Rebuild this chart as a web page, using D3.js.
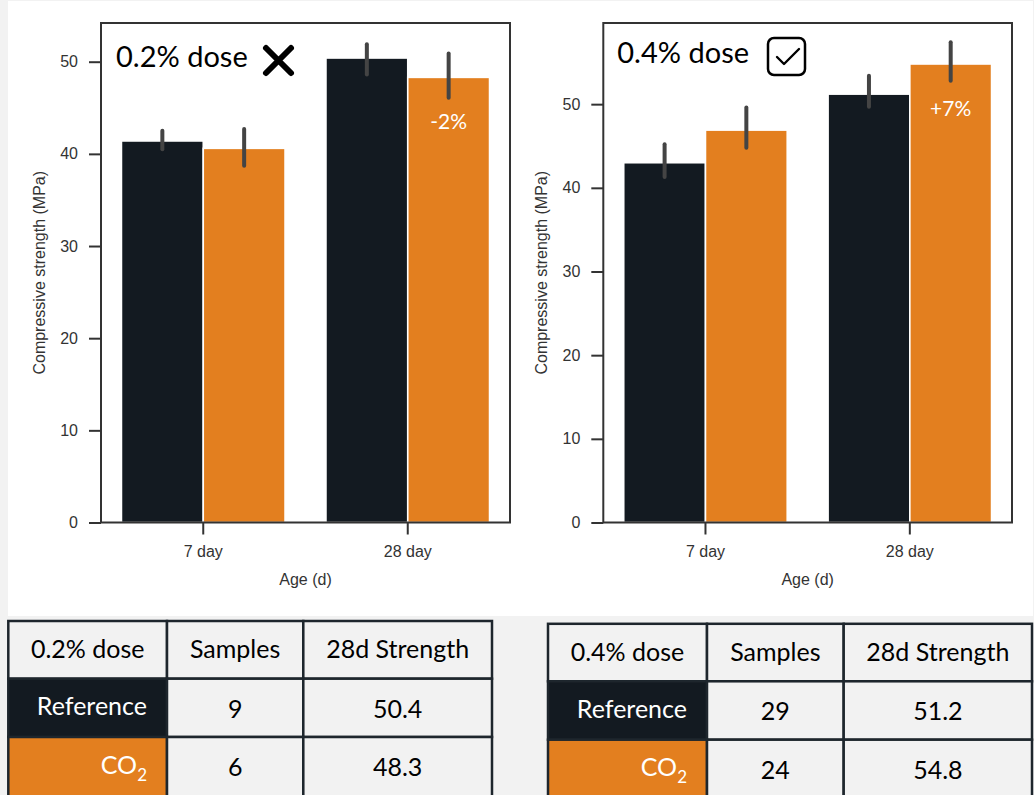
<!DOCTYPE html>
<html>
<head>
<meta charset="utf-8">
<script src="https://cdn.jsdelivr.net/npm/d3@7/dist/d3.min.js"></script>
<style>
  html, body { margin: 0; padding: 0; background: #f2f2f2; }
  svg { display: block; }
</style>
</head>
<body>
<svg id="chart" width="1034" height="795"></svg>
<script>
// ---- data ----
const ages = ["7 day", "28 day"];
const groups = ["Reference", "CO2"];
const yTicks = [0, 10, 20, 30, 40, 50];

// 0.2% dose: mean compressive strength (MPa) and error-bar range per age
const refMean02 = [41.4, 50.4];
const refLow02  = [40.5, 48.6];
const refHigh02 = [42.5, 51.9];
const co2Mean02 = [40.6, 48.3];
const co2Low02  = [38.7, 46.1];
const co2High02 = [42.7, 50.9];

// 0.4% dose
const refMean04 = [43.0, 51.2];
const refLow04  = [41.3, 49.7];
const refHigh04 = [45.2, 53.4];
const co2Mean04 = [46.9, 54.8];
const co2Low04  = [44.8, 52.8];
const co2High04 = [49.6, 57.4];

// 28-day change of the CO2 mix vs. the reference
const change28d = ["-2%", "+7%"];

// summary tables
const tableHeader02 = ["0.2% dose", "Samples", "28d Strength"];
const tableHeader04 = ["0.4% dose", "Samples", "28d Strength"];
const samples02 = [9, 6];
const strength28d02 = [50.4, 48.3];
const samples04 = [29, 24];
const strength28d04 = [51.2, 54.8];

// ---- style ----
const DARK = "#131a21";
const ORANGE = "#e37f1f";
const AXIS = "#333333";
const ERR = "#444444";
const TABLE_BG = "#f2f2f2";
const TABLE_LINE = "#1e262d";
const UI_FONT = "Lato, 'Open Sans', sans-serif";
const PLOT_FONT = "'Liberation Sans', Arial, sans-serif";

const svg = d3.select("#chart");

// page background and white chart panel
svg.append("rect").attr("width", 1034).attr("height", 795).attr("fill", "#f2f2f2");
svg.append("rect").attr("x", 8).attr("y", 1).attr("width", 1025).attr("height", 615).attr("fill", "#ffffff");

function toRows(mean, lo, hi) {
  return ages.map((a, i) => ({ age: a, mean: mean[i], lo: lo[i], hi: hi[i] }));
}

function drawPanel(cfg) {
  const { left, right, top, bottom, yMax, series, title, changeLabel, icon } = cfg;
  const g = svg.append("g");

  const x = d3.scaleBand().domain(ages).range([left, right]).paddingInner(0.2).paddingOuter(0.1);
  const xs = d3.scaleBand().domain(groups).range([0, x.bandwidth()]);
  const y = d3.scaleLinear().domain([0, yMax]).range([bottom, top]);

  // bars
  groups.forEach((grp, gi) => {
    const rows = series[gi];
    g.selectAll(null).data(rows).join("rect")
      .attr("x", d => x(d.age) + xs(grp))
      .attr("y", d => y(d.mean))
      .attr("width", xs.bandwidth())
      .attr("height", d => y(0) - y(d.mean))
      .attr("fill", gi === 0 ? DARK : ORANGE)
      .attr("stroke", "#ffffff")
      .attr("stroke-width", 1.6);
  });

  // error bars
  groups.forEach((grp, gi) => {
    const rows = series[gi];
    g.selectAll(null).data(rows).join("line")
      .attr("x1", d => x(d.age) + xs(grp) + xs.bandwidth() / 2)
      .attr("x2", d => x(d.age) + xs(grp) + xs.bandwidth() / 2)
      .attr("y1", d => y(d.lo))
      .attr("y2", d => y(d.hi))
      .attr("stroke", ERR)
      .attr("stroke-width", 4)
      .attr("stroke-linecap", "round");
  });

  // percentage change on the 28-day CO2 bar
  const co2_28 = series[1][1];
  g.append("text")
    .attr("x", x(co2_28.age) + xs("CO2") + xs.bandwidth() / 2)
    .attr("y", y(co2_28.mean) + 52)
    .attr("text-anchor", "middle")
    .attr("fill", "#ffffff")
    .attr("font-family", UI_FONT)
    .attr("font-size", 21)
    .text(changeLabel);

  // frame
  g.append("rect")
    .attr("x", left).attr("y", top)
    .attr("width", right - left).attr("height", bottom - top)
    .attr("fill", "none").attr("stroke", AXIS).attr("stroke-width", 2);

  // y axis
  const ya = g.append("g").attr("transform", `translate(${left},0)`)
    .call(d3.axisLeft(y).tickValues(yTicks).tickSize(12).tickPadding(11));
  ya.select(".domain").remove();
  ya.selectAll(".tick line").attr("stroke", AXIS).attr("stroke-width", 2);
  ya.selectAll(".tick text").attr("fill", AXIS).attr("font-family", PLOT_FONT).attr("font-size", 16);

  // x axis
  const xa = g.append("g").attr("transform", `translate(0,${bottom})`)
    .call(d3.axisBottom(x).tickSize(12).tickPadding(11));
  xa.select(".domain").remove();
  xa.selectAll(".tick line").attr("stroke", AXIS).attr("stroke-width", 2);
  xa.selectAll(".tick text").attr("fill", AXIS).attr("font-family", PLOT_FONT).attr("font-size", 16);

  // axis titles
  g.append("text")
    .attr("x", (left + right) / 2).attr("y", bottom + 62)
    .attr("text-anchor", "middle").attr("fill", AXIS)
    .attr("font-family", PLOT_FONT).attr("font-size", 16)
    .text("Age (d)");
  g.append("text")
    .attr("transform", `translate(${left - 56},${(top + bottom) / 2}) rotate(-90)`)
    .attr("text-anchor", "middle").attr("fill", AXIS)
    .attr("font-family", PLOT_FONT).attr("font-size", 16)
    .text("Compressive strength (MPa)");

  // panel title
  const t = g.append("text")
    .attr("x", left + title.dx).attr("y", top + title.dy)
    .attr("fill", "#000000")
    .attr("font-family", UI_FONT).attr("font-size", 29)
    .text(title.text);

  // status icon next to the title
  const ix = left + icon.dx, iy = top + icon.dy;
  if (icon.type === "cross") {
    g.append("path")
      .attr("d", `M${ix},${iy} L${ix + 25},${iy + 25} M${ix + 25},${iy} L${ix},${iy + 25}`)
      .attr("stroke", "#000").attr("stroke-width", 6).attr("stroke-linecap", "round").attr("fill", "none");
  } else {
    g.append("rect")
      .attr("x", ix).attr("y", iy).attr("width", 37).attr("height", 37).attr("rx", 6)
      .attr("fill", "none").attr("stroke", "#000").attr("stroke-width", 2.5);
    g.append("path")
      .attr("d", `M${ix + 9},${iy + 19} L${ix + 16},${iy + 26} L${ix + 31},${iy + 11}`)
      .attr("fill", "none").attr("stroke", "#000").attr("stroke-width", 2.4)
      .attr("stroke-linecap", "round").attr("stroke-linejoin", "round");
  }
}

drawPanel({
  left: 101, right: 510, top: 23, bottom: 522.5, yMax: 54.2,
  series: [toRows(refMean02, refLow02, refHigh02), toRows(co2Mean02, co2Low02, co2High02)],
  title: { text: "0.2% dose", dx: 15, dy: 44 },
  changeLabel: change28d[0],
  icon: { type: "cross", dx: 165, dy: 25 }
});

drawPanel({
  left: 603.3, right: 1012, top: 23, bottom: 522.5, yMax: 59.7,
  series: [toRows(refMean04, refLow04, refHigh04), toRows(co2Mean04, co2Low04, co2High04)],
  title: { text: "0.4% dose", dx: 14, dy: 39.5 },
  changeLabel: change28d[1],
  icon: { type: "check", dx: 164.7, dy: 15 }
});

// ---- summary tables ----
function drawTable(cols, rowsY, header, samples, strength) {
  const g = svg.append("g");
  const labels = ["Reference", "CO2"];
  const labelFill = [DARK, ORANGE];
  const nRows = rowsY.length - 1;

  for (let r = 0; r < nRows; r++) {
    for (let c = 0; c < cols.length - 1; c++) {
      let fill = TABLE_BG;
      if (c === 0 && r > 0) fill = labelFill[r - 1];
      g.append("rect")
        .attr("x", cols[c]).attr("y", rowsY[r])
        .attr("width", cols[c + 1] - cols[c]).attr("height", rowsY[r + 1] - rowsY[r])
        .attr("fill", fill).attr("stroke", TABLE_LINE).attr("stroke-width", 2.5);
    }
  }

  const cx = c => (cols[c] + cols[c + 1]) / 2;
  const txt = (xPos, yPos, anchor, color) => g.append("text")
    .attr("x", xPos).attr("y", yPos).attr("text-anchor", anchor)
    .attr("fill", color).attr("font-family", UI_FONT).attr("font-size", 25);

  header.forEach((h, c) => txt(cx(c), rowsY[0] + 37, "middle", "#000").text(h));

  labels.forEach((lab, i) => {
    const yb = rowsY[i + 1];
    const t = txt(cols[1] - 20, yb + 36.5, "end", "#ffffff");
    if (lab === "CO2") {
      t.append("tspan").text("CO");
      t.append("tspan").attr("font-size", 17).attr("dy", 7).text("2");
    } else {
      t.text(lab);
    }
    txt(cx(1), yb + 39, "middle", "#000").text(samples[i]);
    txt(cx(2), yb + 39, "middle", "#000").text(strength[i].toFixed(1));
  });
}

drawTable([8.3, 167, 303.3, 492], [621, 678.7, 737, 800], tableHeader02, samples02, strength28d02);
drawTable([548, 707, 843.7, 1032], [623.8, 681.3, 739.7, 800], tableHeader04, samples04, strength28d04);
</script>
</body>
</html>
